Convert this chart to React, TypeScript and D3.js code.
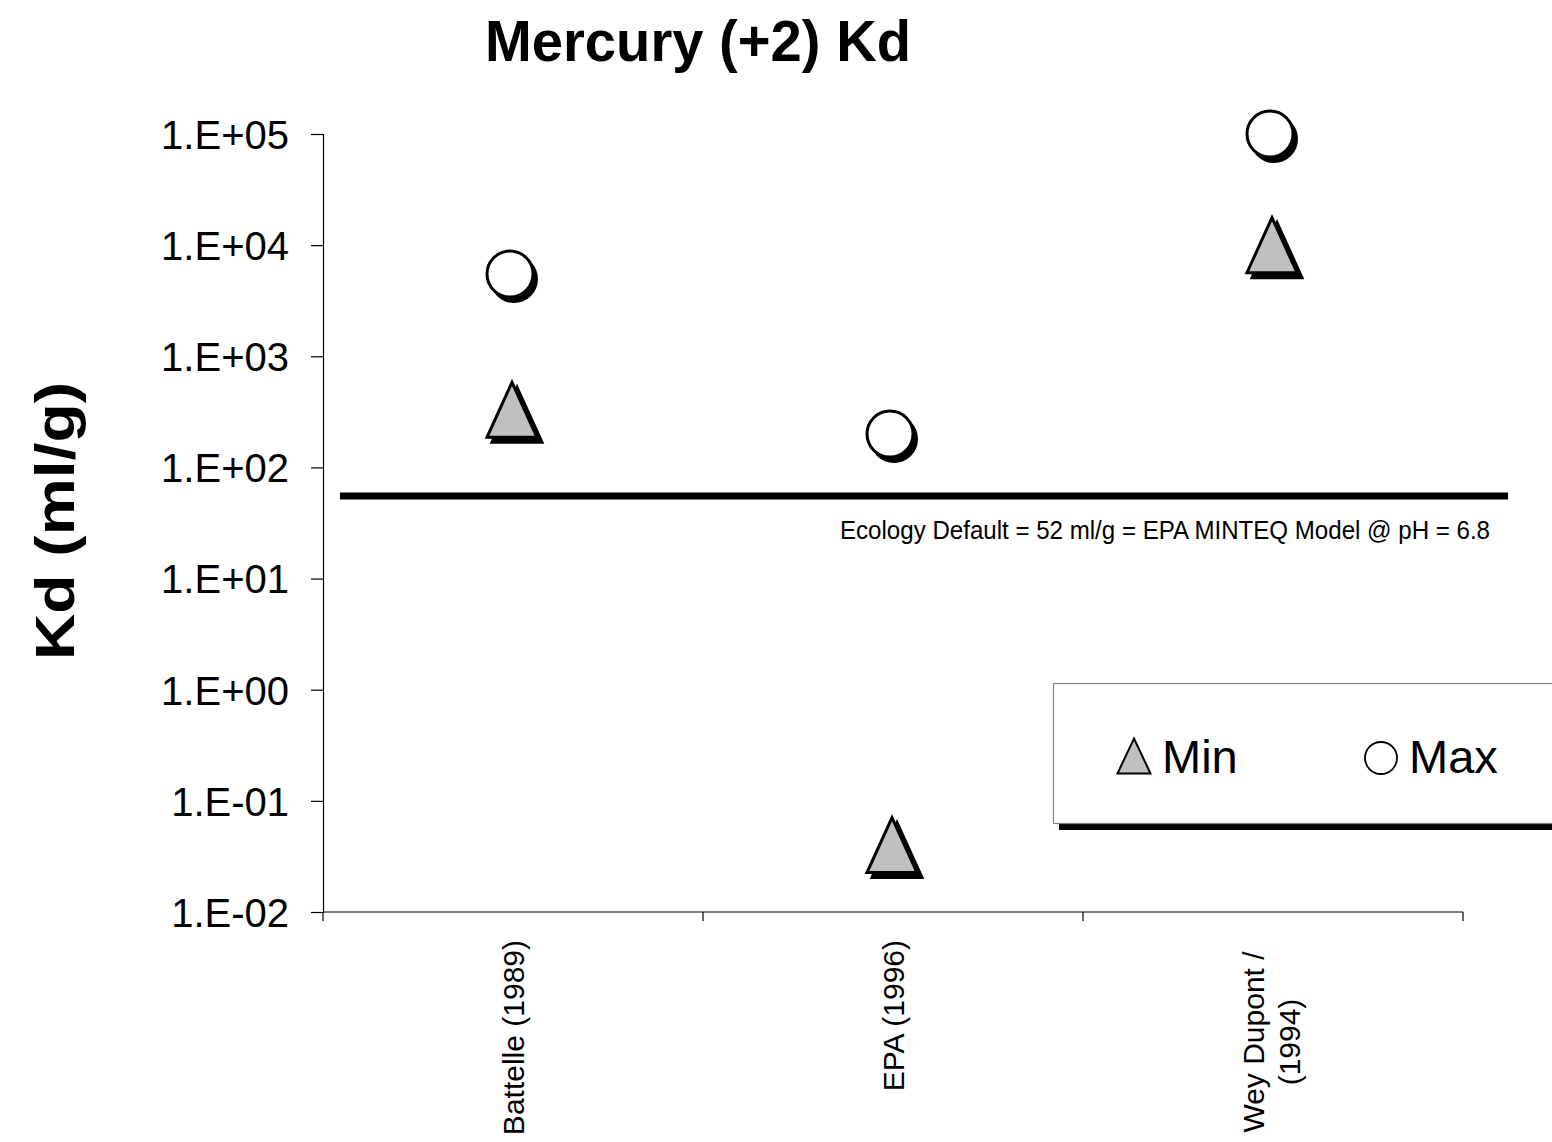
import React, { useEffect, useRef } from "react";
import * as d3 from "d3";

// Study labels (split into the lines they wrap to on the axis)
const categories = ["Battelle (1989)", "EPA (1996)", "Wey Dupont / (1994)"];
const categoryLines = [["Battelle (1989)"], ["EPA (1996)"], ["Wey Dupont /", "(1994)"]];

// Kd ranges (ml/g)
const minValues = [330, 0.04, 10000];
const maxValues = [5500, 200, 100000];

// Ecology default reference value (ml/g)
const ecologyDefault = 52;
const ecologyLabel = "Ecology Default = 52 ml/g = EPA MINTEQ Model  @ pH = 6.8";

const yTicks = [1e-2, 1e-1, 1e0, 1e1, 1e2, 1e3, 1e4, 1e5];
const yTickLabels = ["1.E-02", "1.E-01", "1.E+00", "1.E+01", "1.E+02", "1.E+03", "1.E+04", "1.E+05"];

const W = 1552;
const H = 1142;
const FONT = "'Liberation Sans', Arial, Helvetica, sans-serif";

const plot = { left: 323, right: 1463, top: 134, bottom: 912 };

const x = d3.scaleBand<string>().domain(categories).range([plot.left, plot.right]);
const y = d3.scaleLog().domain([1e-2, 1e5]).range([plot.bottom, plot.top]);

// triangle marker centred on (cx, cy)
const triPath = (cx: number, cy: number, w: number, h: number) => {
  const p = d3.path();
  p.moveTo(cx, cy - h / 2);
  p.lineTo(cx + w / 2, cy + h / 2);
  p.lineTo(cx - w / 2, cy + h / 2);
  p.closePath();
  return p.toString();
};

export default function App() {
  const yAxisRef = useRef<SVGGElement>(null);
  const xAxisRef = useRef<SVGGElement>(null);

  useEffect(() => {
    const ya = d3.select(yAxisRef.current!);
    ya.call(
      d3
        .axisLeft(y)
        .tickValues(yTicks)
        .tickSize(12)
        .tickFormat((_, i) => yTickLabels[i])
        .tickPadding(22)
    );
    ya.select(".domain").attr("stroke", "#000").attr("stroke-width", 1.2);
    ya.selectAll(".tick line").attr("stroke", "#000").attr("stroke-width", 1.2);
    ya.selectAll(".tick text")
      .attr("font-family", FONT)
      .attr("font-size", 40)
      .attr("fill", "#000")
      .attr("dy", "0.36em");

    const xa = d3.select(xAxisRef.current!);
    const boundaries = [plot.left, ...categories.map((c) => (x(c) as number) + x.bandwidth())];
    xa.selectAll("*").remove();
    xa.append("line")
      .attr("x1", plot.left)
      .attr("x2", plot.right)
      .attr("y1", 0)
      .attr("y2", 0)
      .attr("stroke", "#000")
      .attr("stroke-width", 1.2);
    xa.selectAll("line.tk")
      .data(boundaries)
      .enter()
      .append("line")
      .attr("class", "tk")
      .attr("x1", (d) => d)
      .attr("x2", (d) => d)
      .attr("y1", 0)
      .attr("y2", 9)
      .attr("stroke", "#000")
      .attr("stroke-width", 1.2);
  }, []);

  const refY = y(ecologyDefault);

  return (
    <svg
      width={W}
      height={H}
      viewBox={`0 0 ${W} ${H}`}
      style={{ position: "absolute", left: 0, top: 0, background: "#fff" }}
    >
      <rect x={0} y={0} width={W} height={H} fill="#fff" />

      {/* title */}
      <text
        x={485}
        y={61}
        fontFamily={FONT}
        fontWeight="bold"
        fontSize={58}
        textLength={426}
        lengthAdjust="spacingAndGlyphs"
        fill="#000"
      >
        Mercury (+2) Kd
      </text>

      {/* y axis title */}
      <text
        transform="translate(74,660) rotate(-90)"
        fontFamily={FONT}
        fontWeight="bold"
        fontSize={56}
        textLength={278}
        lengthAdjust="spacingAndGlyphs"
        fill="#000"
      >
        Kd (ml/g)
      </text>

      <g ref={yAxisRef} transform={`translate(${plot.left},0)`} />
      <g ref={xAxisRef} transform={`translate(0,${plot.bottom})`} />

      {/* category labels */}
      {categoryLines.map((lines, i) => {
        const cx = (x(categories[i]) as number) + x.bandwidth() / 2;
        if (lines.length === 1) {
          return (
            <text
              key={i}
              transform={`translate(${cx + 11},940) rotate(-90)`}
              textAnchor="end"
              fontFamily={FONT}
              fontSize={30}
              fill="#000"
            >
              {lines[0]}
            </text>
          );
        }
        return (
          <g key={i}>
            {lines.map((ln, j) => (
              <text
                key={j}
                transform={`translate(${cx - 9 + j * 36},1042) rotate(-90)`}
                textAnchor="middle"
                fontFamily={FONT}
                fontSize={30}
                fill="#000"
              >
                {ln}
              </text>
            ))}
          </g>
        );
      })}

      {/* ecology default reference line */}
      <line x1={340} x2={1508} y1={refY - 3} y2={refY - 3} stroke="#000" strokeWidth={7} />
      <text
        x={840}
        y={539}
        fontFamily={FONT}
        fontSize={26}
        textLength={650}
        lengthAdjust="spacingAndGlyphs"
        fill="#000"
      >
        {ecologyLabel}
      </text>

      {/* max markers (circles with drop shadow) */}
      {maxValues.map((v, i) => {
        const cx = (x(categories[i]) as number) + x.bandwidth() / 2 - 3;
        const cy = y(v);
        return (
          <g key={`max${i}`}>
            <circle cx={cx + 4} cy={cy + 5} r={24} fill="#000" />
            <circle cx={cx} cy={cy} r={23} fill="#fff" stroke="#000" strokeWidth={3} />
          </g>
        );
      })}

      {/* min markers (triangles with drop shadow) */}
      {minValues.map((v, i) => {
        const cx = (x(categories[i]) as number) + x.bandwidth() / 2 - 1;
        const cy = y(v);
        return (
          <g key={`min${i}`}>
            <path d={triPath(cx + 5, cy + 5, 50, 55)} fill="#000" stroke="#000" strokeWidth={3} />
            <path d={triPath(cx, cy, 50, 55)} fill="#c0c0c0" stroke="#000" strokeWidth={3} strokeLinejoin="miter" />
          </g>
        );
      })}

      {/* legend */}
      <g>
        <rect x={1059} y={823} width={W - 1059} height={7} fill="#000" />
        <rect x={1053.5} y={683.5} width={W} height={140} fill="#fff" stroke="#808080" strokeWidth={1.2} />
        <path d={triPath(1134, 756, 33, 35)} fill="#c0c0c0" stroke="#000" strokeWidth={2} />
        <text x={1162} y={773} fontFamily={FONT} fontSize={47} fill="#000">
          Min
        </text>
        <circle cx={1381} cy={758} r={16} fill="#fff" stroke="#000" strokeWidth={1.8} />
        <text x={1409} y={773} fontFamily={FONT} fontSize={47} fill="#000">
          Max
        </text>
      </g>
    </svg>
  );
}
